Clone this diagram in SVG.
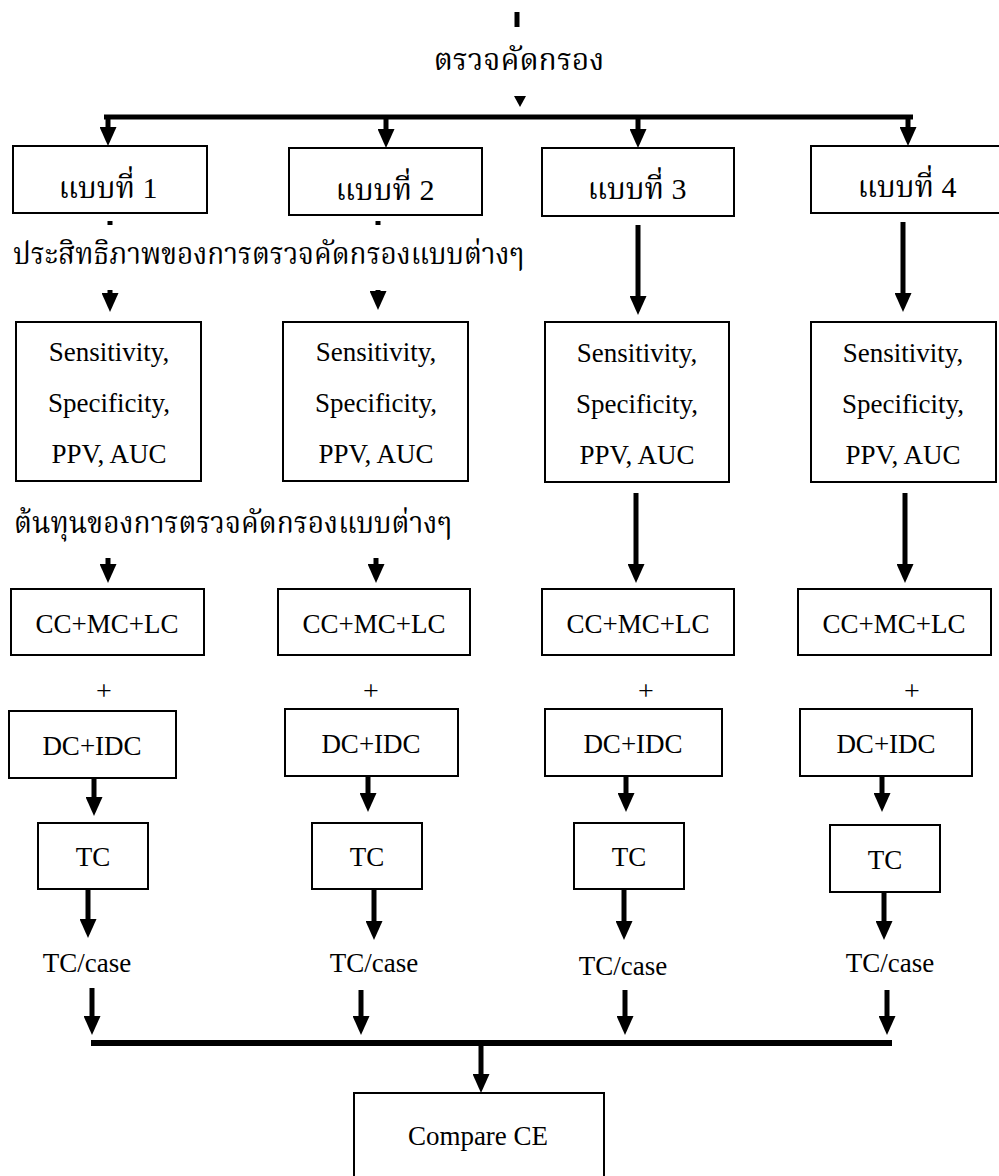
<svg xmlns="http://www.w3.org/2000/svg" width="999" height="1176" viewBox="0 0 999 1176">
<style>
.box{fill:#fff;stroke:#000;stroke-width:2}
.t{font-family:"Liberation Serif","Noto Serif Thai","Noto Sans Thai",serif;font-size:27px;fill:#000;text-anchor:middle}
.th{font-family:"Liberation Serif","Noto Serif Thai","Noto Sans Thai",serif;font-size:30px;fill:#000}
.plus{font-family:"Liberation Serif",serif;font-size:28px;fill:#000;text-anchor:middle}
.ln{stroke:#000;stroke-width:5;fill:none}
.ar{stroke:#000;stroke-width:5;fill:none;marker-end:url(#ah)}
</style>
<defs>
<marker id="ah" markerUnits="userSpaceOnUse" viewBox="0 0 19 17" markerWidth="19" markerHeight="17" refX="9" refY="8.5" orient="auto">
<path d="M0,0 L19,8.5 L0,17 z" fill="#000"/>
</marker>
</defs>
<rect width="999" height="1176" fill="#fff"/>
<g id="connectors">
<line class="ln" x1="517" y1="12" x2="517" y2="27"/>
<polygon points="514,96 526,96 520,107" fill="#000"/>
<line class="ln" x1="104" y1="117" x2="913" y2="117"/>
<line class="ar" x1="108" y1="117" x2="108" y2="136"/>
<line class="ar" x1="386" y1="117" x2="386" y2="138"/>
<line class="ar" x1="638" y1="117" x2="638" y2="138"/>
<line class="ar" x1="908" y1="117" x2="908" y2="136"/>
<line class="ln" x1="110" y1="221" x2="110" y2="225"/>
<line class="ln" x1="378" y1="221" x2="378" y2="225"/>
<line class="ar" x1="110" y1="290" x2="110" y2="302"/>
<line class="ar" x1="378" y1="290" x2="378" y2="300"/>
<line class="ar" x1="638" y1="225" x2="638" y2="305"/>
<line class="ar" x1="903" y1="222" x2="903" y2="302"/>
<line class="ar" x1="108" y1="558" x2="108" y2="573"/>
<line class="ar" x1="376" y1="558" x2="376" y2="573"/>
<line class="ar" x1="636" y1="493" x2="636" y2="573"/>
<line class="ar" x1="905" y1="493" x2="905" y2="573"/>
<line class="ar" x1="94" y1="778" x2="94" y2="806"/>
<line class="ar" x1="368" y1="776" x2="368" y2="802"/>
<line class="ar" x1="626" y1="776" x2="626" y2="802"/>
<line class="ar" x1="882" y1="776" x2="882" y2="802"/>
<line class="ar" x1="88" y1="890" x2="88" y2="928"/>
<line class="ar" x1="374" y1="890" x2="374" y2="930"/>
<line class="ar" x1="624" y1="890" x2="624" y2="930"/>
<line class="ar" x1="884" y1="893" x2="884" y2="930"/>
<line class="ar" x1="92" y1="988" x2="92" y2="1025"/>
<line class="ar" x1="361" y1="990" x2="361" y2="1025"/>
<line class="ar" x1="625" y1="990" x2="625" y2="1025"/>
<line class="ar" x1="887" y1="990" x2="887" y2="1025"/>
<line x1="91" y1="1043" x2="892" y2="1043" stroke="#000" stroke-width="6"/>
<line class="ar" x1="481" y1="1046" x2="481" y2="1083"/>
</g>
<g id="label-screening"><text class="th" x="519" y="70" text-anchor="middle">ตรวจคัดกรอง</text></g>
<g id="label-efficacy"><text class="th" x="13" y="264" textLength="511" lengthAdjust="spacingAndGlyphs">ประสิทธิภาพของการตรวจคัดกรองแบบต่างๆ</text></g>
<g id="label-cost"><text class="th" x="14" y="533" textLength="438" lengthAdjust="spacingAndGlyphs">ต้นทุนของการตรวจคัดกรองแบบต่างๆ</text></g>
<g id="type1"><rect class="box" x="13" y="146" width="194" height="67"/><text class="th" x="108" y="198" text-anchor="middle">แบบที่ 1</text></g>
<g id="type2"><rect class="box" x="289" y="148" width="193" height="67"/><text class="th" x="385" y="200" text-anchor="middle">แบบที่ 2</text></g>
<g id="type3"><rect class="box" x="542" y="148" width="192" height="68"/><text class="th" x="637" y="199" text-anchor="middle">แบบที่ 3</text></g>
<g id="type4"><rect class="box" x="811" y="146" width="195" height="67"/><text class="th" x="907" y="197" text-anchor="middle">แบบที่ 4</text></g>
<g id="eff1"><rect class="box" x="16" y="322" width="185" height="159"/><text class="t" x="109" y="361">Sensitivity,</text><text class="t" x="109" y="412">Specificity,</text><text class="t" x="109" y="463">PPV, AUC</text></g>
<g id="eff2"><rect class="box" x="283" y="322" width="185" height="159"/><text class="t" x="376" y="361">Sensitivity,</text><text class="t" x="376" y="412">Specificity,</text><text class="t" x="376" y="463">PPV, AUC</text></g>
<g id="eff3"><rect class="box" x="545" y="322" width="184" height="160"/><text class="t" x="637" y="362">Sensitivity,</text><text class="t" x="637" y="413">Specificity,</text><text class="t" x="637" y="464">PPV, AUC</text></g>
<g id="eff4"><rect class="box" x="811" y="322" width="185" height="160"/><text class="t" x="903" y="362">Sensitivity,</text><text class="t" x="903" y="413">Specificity,</text><text class="t" x="903" y="464">PPV, AUC</text></g>
<g id="cost1"><rect class="box" x="11" y="589" width="193" height="66"/><text class="t" x="107" y="633">CC+MC+LC</text></g>
<g id="cost2"><rect class="box" x="278" y="589" width="192" height="66"/><text class="t" x="374" y="633">CC+MC+LC</text></g>
<g id="cost3"><rect class="box" x="542" y="589" width="192" height="66"/><text class="t" x="638" y="633">CC+MC+LC</text></g>
<g id="cost4"><rect class="box" x="798" y="589" width="193" height="66"/><text class="t" x="894" y="633">CC+MC+LC</text></g>
<g id="plus"><text class="plus" x="104" y="700">+</text><text class="plus" x="371" y="700">+</text><text class="plus" x="646" y="700">+</text><text class="plus" x="912" y="700">+</text></g>
<g id="dc1"><rect class="box" x="9" y="711" width="167" height="67"/><text class="t" x="92" y="755">DC+IDC</text></g>
<g id="dc2"><rect class="box" x="285" y="709" width="173" height="67"/><text class="t" x="371" y="753">DC+IDC</text></g>
<g id="dc3"><rect class="box" x="545" y="709" width="177" height="67"/><text class="t" x="633" y="753">DC+IDC</text></g>
<g id="dc4"><rect class="box" x="800" y="709" width="172" height="67"/><text class="t" x="886" y="753">DC+IDC</text></g>
<g id="tc1"><rect class="box" x="38" y="823" width="110" height="66"/><text class="t" x="93" y="866">TC</text></g>
<g id="tc2"><rect class="box" x="312" y="823" width="110" height="66"/><text class="t" x="367" y="866">TC</text></g>
<g id="tc3"><rect class="box" x="574" y="823" width="110" height="66"/><text class="t" x="629" y="866">TC</text></g>
<g id="tc4"><rect class="box" x="830" y="825" width="110" height="67"/><text class="t" x="885" y="869">TC</text></g>
<g id="tcc1"><text class="t" x="87" y="972">TC/case</text></g>
<g id="tcc2"><text class="t" x="374" y="972">TC/case</text></g>
<g id="tcc3"><text class="t" x="623" y="975">TC/case</text></g>
<g id="tcc4"><text class="t" x="890" y="972">TC/case</text></g>
<g id="compare"><rect class="box" x="354" y="1093" width="250" height="100"/><text class="t" x="478" y="1145">Compare CE</text></g>
</svg>
